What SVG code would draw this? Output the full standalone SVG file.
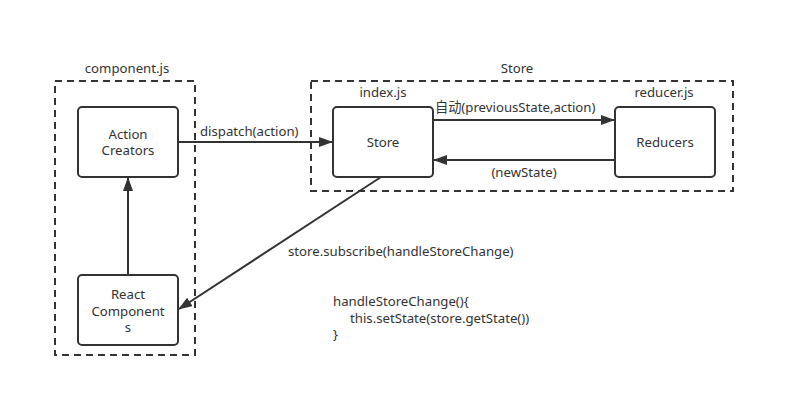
<svg xmlns="http://www.w3.org/2000/svg" width="806" height="418" viewBox="0 0 806 418">
<defs>
<marker id="ah" markerWidth="14" markerHeight="10" refX="13" refY="5" orient="auto" markerUnits="userSpaceOnUse">
<path d="M0,0 L14,5 L0,10 Z" fill="#333"/>
</marker>
<style>
text{font-family:"Noto Sans","Noto Sans CJK SC",sans-serif;font-size:13.2px;fill:#333}
.m{text-anchor:middle}
.box{fill:#fff;stroke:#333;stroke-width:2}
.grp{fill:none;stroke:#333;stroke-width:2;stroke-dasharray:7,5}
.ln{stroke:#333;stroke-width:2;fill:none;marker-end:url(#ah)}
</style>
</defs>
<rect width="806" height="418" fill="#fff"/>
<g id="group-component">
<rect class="grp" x="55" y="81" width="140" height="274"/>
<text class="m" x="127" y="73">component.js</text>
</g>
<g id="group-store">
<rect class="grp" x="311" y="81" width="422" height="110"/>
<text class="m" x="517" y="73">Store</text>
</g>
<g id="connectors">
<line class="ln" x1="128" y1="275" x2="128" y2="178"/>
<line class="ln" x1="178" y1="142" x2="332" y2="142"/>
<line class="ln" x1="433" y1="120" x2="614" y2="120"/>
<line class="ln" x1="615" y1="160" x2="434" y2="160"/>
<line class="ln" x1="381" y1="177" x2="179" y2="309"/>
<text x="200" y="136">dispatch(action)</text>
<text x="435" y="112">自动(previousState,action)</text>
<text class="m" x="524" y="177">(newState)</text>
<text x="288" y="256">store.subscribe(handleStoreChange)</text>
</g>
<g id="node-action-creators">
<rect class="box" x="78" y="107" width="100" height="70" rx="4"/>
<text class="m" x="128" y="138.5">Action<tspan x="128" dy="16.5">Creators</tspan></text>
</g>
<g id="node-react-components">
<rect class="box" x="78" y="275" width="100" height="70" rx="4"/>
<text class="m" x="128" y="299">React<tspan x="128" dy="16.5">Component</tspan><tspan x="128" dy="16.5">s</tspan></text>
</g>
<g id="node-store">
<rect class="box" x="333" y="107" width="100" height="70" rx="4"/>
<text class="m" x="383" y="97">index.js</text>
<text class="m" x="383" y="147">Store</text>
</g>
<g id="node-reducers">
<rect class="box" x="615" y="107" width="100" height="70" rx="4"/>
<text class="m" x="664" y="97">reducer.js</text>
<text class="m" x="665" y="147">Reducers</text>
</g>
<g id="note">
<text x="333" y="306">handleStoreChange(){<tspan x="350" dy="16.5">this.setState(store.getState())</tspan><tspan x="333" dy="16.5">}</tspan></text>
</g>
</svg>
